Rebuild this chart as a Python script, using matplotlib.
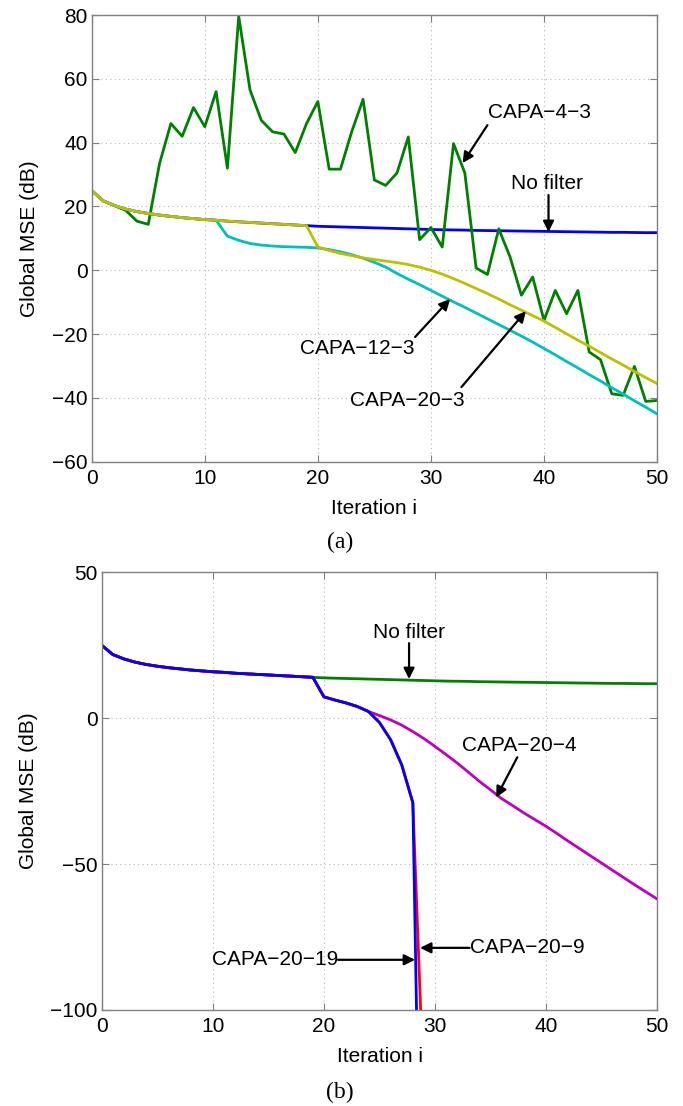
import numpy as np
import matplotlib
matplotlib.use('Agg')
import matplotlib.pyplot as plt

# --- DATA ---
iters = list(range(51))

no_filter = [25.0, 21.8, 20.3, 19.2, 18.4, 17.8, 17.3, 16.9, 16.5, 16.2,
             15.9, 15.7, 15.4, 15.2, 15.0, 14.8, 14.6, 14.4, 14.2, 14.0,
             13.8, 13.7, 13.6, 13.5, 13.4, 13.3, 13.2, 13.1, 13.0, 12.9,
             12.8, 12.7, 12.65, 12.6, 12.5, 12.45, 12.4, 12.35, 12.3, 12.25,
             12.2, 12.15, 12.1, 12.05, 12.0, 11.95, 11.9, 11.9, 11.85, 11.8, 11.8]

capa_4_3 = [25.0, 21.8, 20.3, 18.8, 15.4, 14.4, 33.5, 46.0, 42.0, 51.0,
            45.0, 56.0, 32.0, 79.6, 56.5, 47.0, 43.4, 42.7, 36.9, 46.0,
            52.9, 31.7, 31.7, 43.5, 53.6, 28.3, 26.6, 30.5, 41.8, 9.6,
            13.4, 7.3, 39.7, 30.5, 0.7, -1.3, 13.0, 4.2, -7.8, -2.1,
            -15.7, -6.3, -13.6, -6.3, -25.6, -28.0, -38.7, -39.2, -30.1, -41.1, -40.8]

capa_12_3 = no_filter[:12] + [
    10.7, 9.4, 8.4, 7.9, 7.6, 7.4, 7.3, 7.2,
    7.0, 6.5, 5.8, 4.9, 3.8, 2.5, 1.0, -1.0, -2.8, -4.5,
    -6.3, -8.1, -9.9, -11.6, -13.4, -15.2, -17.0, -18.8, -20.6, -22.5,
    -24.5, -26.5, -28.6, -30.6, -32.7, -34.7, -36.8, -38.8, -40.9, -42.9, -45.0]

capa_20_3 = no_filter[:20] + [
    7.3, 6.2, 5.3, 4.6, 3.9, 3.4, 2.9, 2.4, 1.8, 1.0,
    0.0, -1.2, -2.6, -4.1, -5.7, -7.3, -9.0, -10.8, -12.5, -14.2,
    -15.9, -17.9, -19.9, -21.9, -23.8, -25.8, -27.8, -29.7, -31.7, -33.6, -35.5]

# panel (b)
iters_fast = list(range(30))
capa_20_19 = no_filter[:20] + [7.3, 6.2, 5.2, 4.0, 2.3, -1.5, -7.4, -16.0, -29.0, -244.0]
capa_20_9 = no_filter[:20] + [7.3, 6.2, 5.2, 4.0, 2.3, -1.5, -7.4, -16.0, -29.0, -130.0]
capa_20_4 = no_filter[:20] + [
    7.3, 6.2, 5.2, 4.0, 2.3, 0.9, -0.6, -2.4, -4.6, -7.0,
    -9.7, -12.5, -15.4, -18.5, -21.7, -24.6, -27.6, -30.0, -32.5, -34.8,
    -37.1, -39.6, -42.2, -44.7, -47.2, -49.7, -52.2, -54.7, -57.2, -59.6, -62.0]

# --- COLOURS (matlab defaults) ---
BLUE = (0, 0, 1)
GREEN = (0, 0.5, 0)
RED = (1, 0, 0)
CYAN = (0, 0.75, 0.75)
MAGENTA = (0.75, 0, 0.75)
YELLOW = (0.75, 0.75, 0)

FS = 15
plt.rcParams['font.family'] = ['Liberation Sans', 'DejaVu Sans']
plt.rcParams['font.size'] = FS

fig = plt.figure(figsize=(6.83, 11.06), dpi=100)
ax1 = fig.add_axes([0.1343, 0.5825, 0.8277, 0.4039])
ax2 = fig.add_axes([0.1489, 0.0868, 0.8135, 0.3958])


def style_axes(ax):
    ax.grid(True, color='#b8b8b8', linestyle=(0, (1, 3)), linewidth=0.8)
    for s in ax.spines.values():
        s.set_color('#808080')
        s.set_linewidth(1.0)
    ax.tick_params(direction='in', top=True, right=True, color='#808080',
                   length=5, labelsize=FS)
    ax.tick_params(axis='x', pad=5)
    ax.tick_params(axis='y', pad=3)
    ax.set_xlim(0, 50)
    ax.set_xticks(range(0, 51, 10))
    ax.set_xlabel('Iteration i', fontsize=FS, labelpad=8)
    ax.set_ylabel('Global MSE (dB)', fontsize=FS, labelpad=9)


def arrow(ax, tail, tip):
    ax.annotate('', xy=tip, xytext=tail,
                arrowprops=dict(arrowstyle='-|>', color='k', lw=1.6,
                                mutation_scale=16, shrinkA=0, shrinkB=0))


# --- PANEL (a) ---
lw = 2.0
ax1.plot(iters, no_filter, color=BLUE, lw=lw)
ax1.plot(iters, capa_4_3, color=GREEN, lw=lw)
ax1.plot(iters, capa_12_3, color=CYAN, lw=lw)
ax1.plot(iters, capa_20_3, color=YELLOW, lw=lw)
ax1.set_ylim(-60, 80)
ax1.set_yticks(range(-60, 81, 20))
style_axes(ax1)

ax1.text(39.6, 49.3, 'CAPA\u22124\u22123', ha='center', va='center')
arrow(ax1, (35.0, 45.5), (32.8, 33.6))
ax1.text(40.3, 27.3, 'No filter', ha='center', va='center')
arrow(ax1, (40.4, 23.6), (40.4, 12.0))
ax1.text(23.5, -24.4, 'CAPA\u221212\u22123', ha='center', va='center')
arrow(ax1, (28.6, -20.9), (31.7, -9.0))
ax1.text(27.9, -40.7, 'CAPA\u221220\u22123', ha='center', va='center')
arrow(ax1, (32.7, -36.6), (38.4, -12.8))

# --- PANEL (b) ---
ax2.plot(iters, no_filter, color=GREEN, lw=lw)
ax2.plot(iters, capa_20_4, color=MAGENTA, lw=lw)
ax2.plot(iters_fast, capa_20_9, color=RED, lw=lw)
ax2.plot(iters_fast, capa_20_19, color=BLUE, lw=lw)
ax2.set_ylim(-100, 50)
ax2.set_yticks([-100, -50, 0, 50])
style_axes(ax2)

ax2.text(27.66, 29.5, 'No filter', ha='center', va='center')
arrow(ax2, (27.66, 25.7), (27.66, 13.4))
ax2.text(37.55, -9.3, 'CAPA\u221220\u22124', ha='center', va='center')
arrow(ax2, (37.4, -13.4), (35.5, -27.2))
ax2.text(33.1, -78.7, 'CAPA\u221220\u22129', ha='left', va='center')
arrow(ax2, (33.1, -78.7), (28.65, -78.7))
ax2.text(21.27, -82.8, 'CAPA\u221220\u221219', ha='right', va='center')
arrow(ax2, (21.27, -82.8), (28.2, -82.8))

# captions
fig.text(340 / 683, 1 - 542 / 1106, '(a)', ha='center', va='center',
         fontsize=17, family='Liberation Serif')
fig.text(340 / 683, 1 - 1092 / 1106, '(b)', ha='center', va='center',
         fontsize=17, family='Liberation Serif')

fig.savefig('out.png', dpi=100)
